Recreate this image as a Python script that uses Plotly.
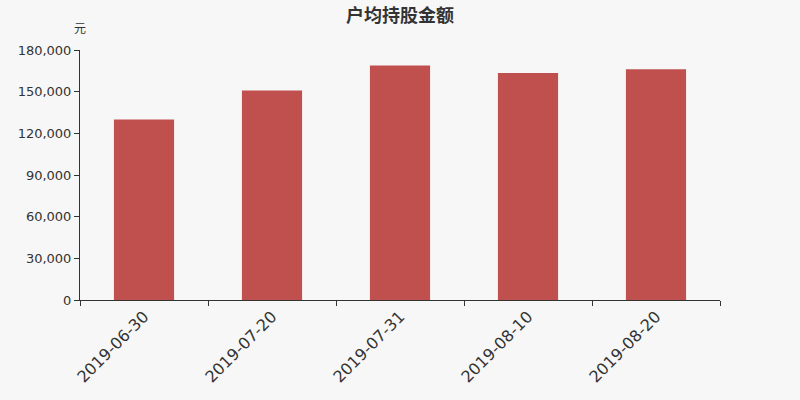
import plotly.graph_objects as go

# 数据
dates = ['2019-06-30', '2019-07-20', '2019-07-31', '2019-08-10', '2019-08-20']
amounts = [130000, 150800, 168800, 163400, 166100]
y_ticks = [0, 30000, 60000, 90000, 120000, 150000, 180000]

bg = '#f7f7f7'
font_fam = 'DejaVu Sans, Noto Sans CJK SC'

fig = go.Figure(go.Bar(
    x=dates,
    y=amounts,
    marker=dict(color='#c0504d', line=dict(width=0)),
))

fig.update_layout(
    width=800,
    height=400,
    paper_bgcolor=bg,
    plot_bgcolor=bg,
    font=dict(family=font_fam, color='#333333', size=12),
    title=dict(text='<b>户均持股金额</b>', x=0.5, xanchor='center',
               y=0.96, yanchor='middle',
               font=dict(size=18, color='#333333', family='Noto Sans CJK SC')),
    margin=dict(l=80, r=80, t=50, b=100),
    bargap=0.53,
    showlegend=False,
)

fig.update_xaxes(
    type='category',
    tickangle=-45,
    tickson='boundaries',
    ticks='outside',
    ticklen=5,
    tickcolor='#333333',
    showline=True,
    linecolor='#333333',
    linewidth=1,
    showgrid=False,
    tickfont=dict(size=16, color='#333333'),
)

fig.update_yaxes(
    range=[0, 180000],
    tickvals=y_ticks,
    tickformat=',d',
    ticks='outside',
    ticklen=5,
    tickcolor='#333333',
    showline=True,
    linecolor='#333333',
    linewidth=1,
    showgrid=False,
    zeroline=False,
    tickfont=dict(size=13, color='#333333'),
)

fig.add_annotation(
    text='元', xref='paper', yref='paper', x=0, y=1.088,
    xanchor='center', yanchor='middle', showarrow=False,
    font=dict(size=12, color='#333333', family='Noto Sans CJK SC'),
)

# 去掉页面默认边距, 不显示工具栏
fig.write_html('out.html', config={'displayModeBar': False},
               post_script="document.body.style.margin='0';")
